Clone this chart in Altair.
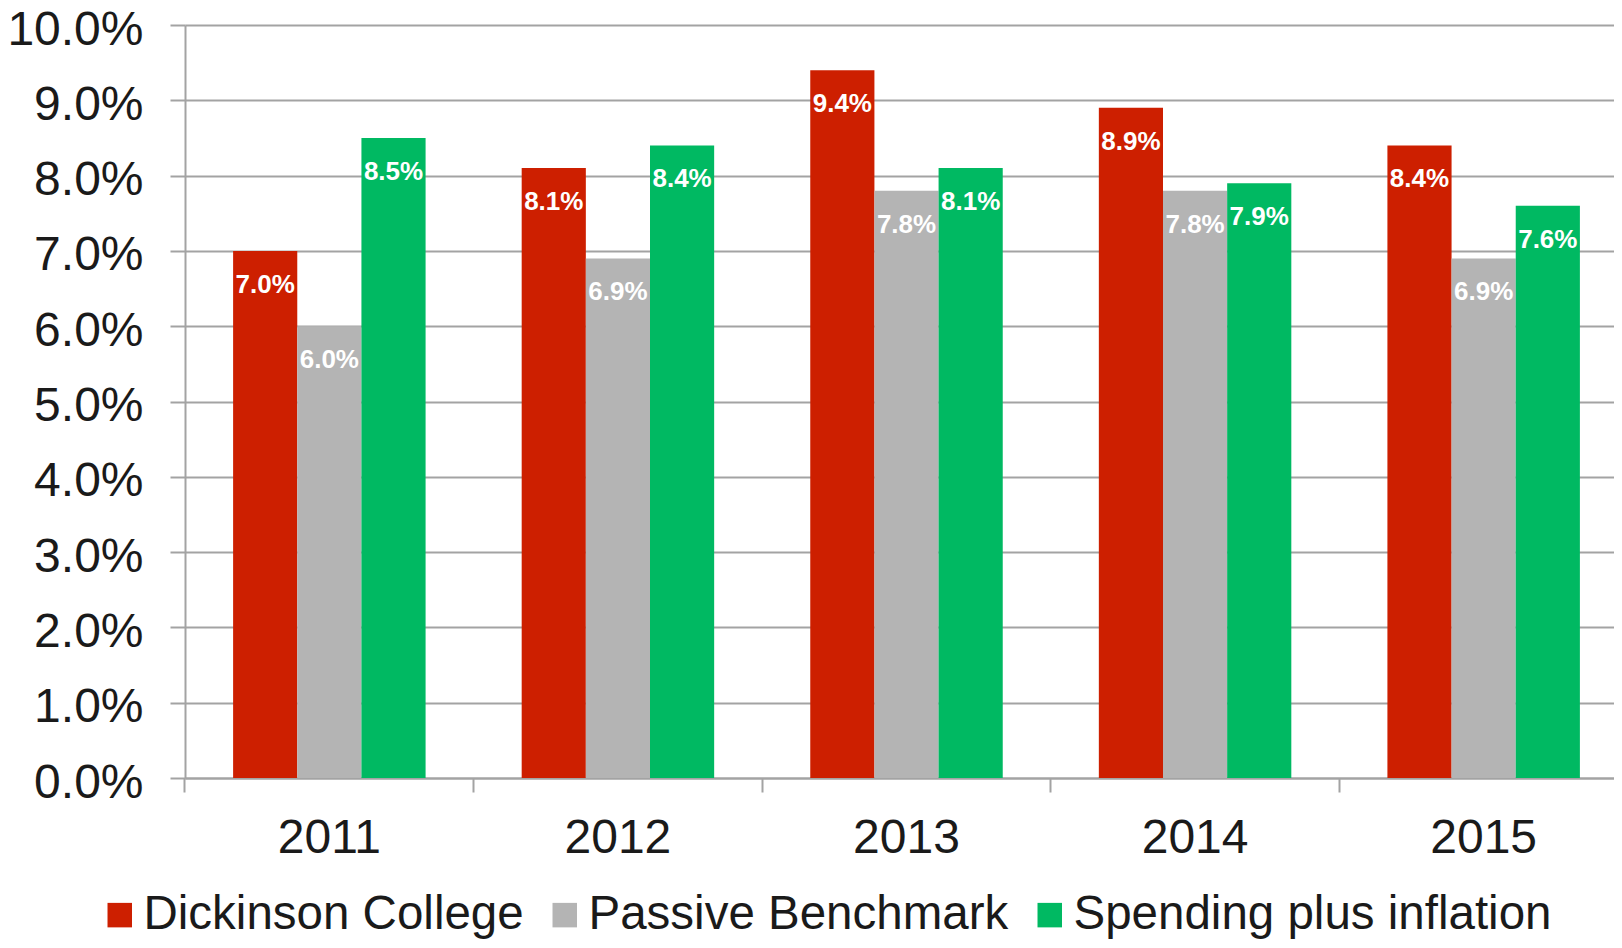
import altair as alt
import pandas as pd

years = ["2011", "2012", "2013", "2014", "2015"]
series = ["Dickinson College", "Passive Benchmark", "Spending plus inflation"]
dickinson = [7.0, 8.1, 9.4, 8.9, 8.4]
passive = [6.0, 6.9, 7.8, 7.8, 6.9]
spending = [8.5, 8.4, 8.1, 7.9, 7.6]
colors = ["#CD1F00", "#B4B4B4", "#00B962"]
y_ticks = [i / 100 for i in range(0, 11)]

rows = []
for s, vals in zip(series, [dickinson, passive, spending]):
    for yr, v in zip(years, vals):
        rows.append({"year": yr, "series": s, "value": v / 100, "label": f"{v:.1f}%"})
df = pd.DataFrame(rows)

FONT = "Liberation Sans"
GRID = "#A3A3A3"
PLOT_W = 1429
BAND_RANGE = 1443

xscale = alt.Scale(paddingInner=0.333, paddingOuter=0.1667, range=[0, BAND_RANGE])
xenc = alt.X(
    "year:N",
    sort=years,
    scale=xscale,
    axis=alt.Axis(
        title=None, labelAngle=0, bandPosition=-0.25, labelFontSize=48, labelFont=FONT,
        labelColor="#1a1a1a", domainColor=GRID, domainWidth=2, tickColor=GRID,
        tickWidth=2, tickSize=14, labelPadding=22, grid=False,
    ),
)
xoff = alt.XOffset("series:N", sort=series, scale=alt.Scale(paddingInner=0, paddingOuter=0))

bars = alt.Chart(df).mark_bar().encode(
    x=xenc,
    xOffset=xoff,
    y=alt.Y(
        "value:Q",
        scale=alt.Scale(domain=[0, 0.10], nice=False),
        axis=alt.Axis(
            title=None, values=y_ticks, format=".1%", labelFontSize=48, labelFont=FONT,
            labelColor="#1a1a1a", domainColor=GRID, domainWidth=2, tickColor=GRID,
            tickWidth=2, tickSize=15, labelPadding=27, labelOffset=5,
            gridColor=GRID, gridWidth=2,
        ),
    ),
    color=alt.Color(
        "series:N",
        sort=series,
        scale=alt.Scale(domain=series, range=colors),
        legend=alt.Legend(
            title=None, orient="none", legendX=-89, legendY=866, direction="horizontal",
            labelFontSize=47.5, labelFont=FONT, labelColor="#1a1a1a", symbolType="square",
            symbolSize=600, symbolStrokeWidth=0, labelOffset=0, columnPadding=17,
            labelLimit=700,
        ),
    ),
)

text = alt.Chart(df).mark_text(
    color="white", fontWeight="bold", fontSize=26, font=FONT, baseline="alphabetic", dy=42
).encode(
    x=alt.X("year:N", sort=years),
    xOffset=xoff,
    y=alt.Y("value:Q"),
    text="label:N",
)

chart = alt.layer(bars, text).properties(
    width=PLOT_W,
    height=753,
    autosize=alt.AutoSizeParams(type="none"),
    padding={"left": 177, "top": 17, "right": 0, "bottom": 162},
).configure_view(stroke=None)

chart.save("out.html", embed_options={"renderer": "svg", "actions": False})
